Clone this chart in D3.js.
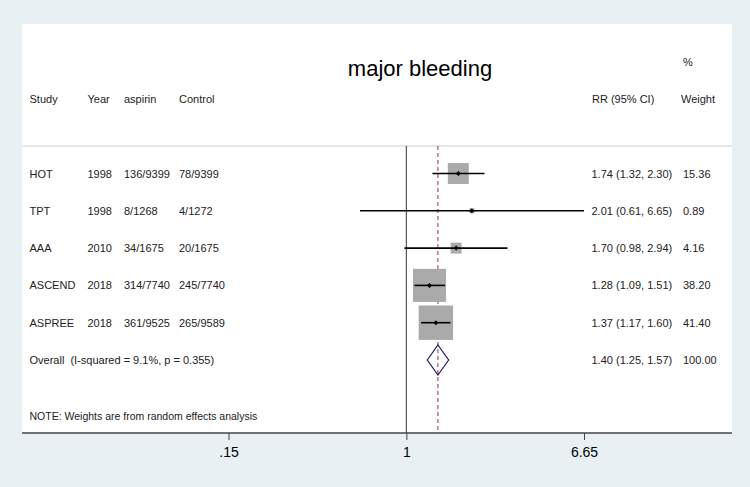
<!DOCTYPE html>
<html><head><meta charset="utf-8">
<script src="https://cdn.jsdelivr.net/npm/d3@7"></script>
<style>
html,body{margin:0;padding:0;background:#e8f0f3;}
svg{display:block;font-family:"Liberation Sans",Arial,sans-serif;}
text{white-space:pre;}
</style></head>
<body>
<svg id="chart" width="750" height="487"></svg>
<script>
const studies = ["HOT","TPT","AAA","ASCEND","ASPREE"];
const years = ["1998","1998","2010","2018","2018"];
const aspirin = ["136/9399","8/1268","34/1675","314/7740","361/9525"];
const control = ["78/9399","4/1272","20/1675","245/7740","265/9589"];
const rr = [1.74, 2.01, 1.70, 1.28, 1.37];
const lo = [1.32, 0.61, 0.98, 1.09, 1.17];
const hi = [2.30, 6.65, 2.94, 1.51, 1.60];
const weights = [15.36, 0.89, 4.16, 38.20, 41.40];
const overall = {label:"Overall  (I-squared = 9.1%, p = 0.355)", rr:1.40, lo:1.25, hi:1.57, w:100};
const tickVals = [0.15, 1, 6.65];
const tickLabels = [".15","1","6.65"];

const svg = d3.select("#chart");
const panel = {x0:22, x1:732, y0:24, y1:433};

svg.append("rect").attr("x",panel.x0).attr("y",panel.y0)
  .attr("width",panel.x1-panel.x0).attr("height",panel.y1-panel.y0).attr("fill","#fff");

const x = d3.scaleLog().domain([0.15, 6.65]).range([228.5, 584]);
const y = d3.scalePoint().domain(d3.range(6)).range([173.5, 360]);
const side = d3.scaleSqrt().domain([0,100]).range([0,53.5]);

// header
svg.append("text").attr("x",420).attr("y",76).attr("text-anchor","middle")
  .attr("font-size",22).attr("fill","#000").text("major bleeding");
const hdr = [["Study",29.5],["Year",87.5],["aspirin",124],["Control",179],["RR (95% CI)",592],["Weight",681]];
hdr.forEach(([t,px])=>svg.append("text").attr("x",px).attr("y",103).attr("font-size",11).attr("fill","#222").text(t));
svg.append("text").attr("x",683).attr("y",66).attr("font-size",11).attr("fill","#222").text("%");

// top separator
svg.append("line").attr("x1",panel.x0).attr("x2",panel.x1).attr("y1",146).attr("y2",146)
  .attr("stroke","#cfcfcf").attr("stroke-width",1);

// reference lines
svg.append("line").attr("x1",x(1)).attr("x2",x(1)).attr("y1",146).attr("y2",panel.y1)
  .attr("stroke","#555").attr("stroke-width",1.2);
svg.append("line").attr("x1",x(overall.rr)).attr("x2",x(overall.rr)).attr("y1",146).attr("y2",panel.y1)
  .attr("stroke","#a0303a").attr("stroke-width",1).attr("stroke-dasharray","4,3");

// study rows
const g = svg.append("g");
studies.forEach((s,i)=>{
  const cy = y(i);
  const sz = side(weights[i]);
  g.append("rect").attr("x",x(rr[i])-sz/2).attr("y",cy-sz/2).attr("width",sz).attr("height",sz)
    .attr("fill","#aaaaaa");
  g.append("line").attr("x1",x(lo[i])).attr("x2",x(hi[i])).attr("y1",cy).attr("y2",cy)
    .attr("stroke","#000").attr("stroke-width",1.6);
  g.append("path").attr("d",`M${x(rr[i])-2.5},${cy}L${x(rr[i])},${cy-2.5}L${x(rr[i])+2.5},${cy}L${x(rr[i])},${cy+2.5}Z`).attr("fill","#000");
  const ty = cy+4;
  [[s,29.5],[years[i],87.5],[aspirin[i],124],[control[i],179]].forEach(([t,px])=>
    g.append("text").attr("x",px).attr("y",ty).attr("font-size",11).attr("fill","#222").text(t));
  g.append("text").attr("x",591.5).attr("y",ty).attr("font-size",11).attr("fill","#222")
    .text(`${rr[i].toFixed(2)} (${lo[i].toFixed(2)}, ${hi[i].toFixed(2)})`);
  g.append("text").attr("x",683).attr("y",ty).attr("font-size",11).attr("fill","#222").text(weights[i].toFixed(2));
});

// overall
const oy = y(5);
g.append("path").attr("d",`M${x(overall.lo)},${oy}L${x(overall.rr)},${oy-15}L${x(overall.hi)},${oy}L${x(overall.rr)},${oy+15}Z`)
  .attr("fill","none").attr("stroke","#1a1a6e").attr("stroke-width",1.2);
g.append("text").attr("x",29.5).attr("y",oy+4).attr("font-size",11).attr("fill","#222").text(overall.label);
g.append("text").attr("x",591.5).attr("y",oy+4).attr("font-size",11).attr("fill","#222")
  .text(`${overall.rr.toFixed(2)} (${overall.lo.toFixed(2)}, ${overall.hi.toFixed(2)})`);
g.append("text").attr("x",683).attr("y",oy+4).attr("font-size",11).attr("fill","#222").text(overall.w.toFixed(2));

// note
svg.append("text").attr("x",29.5).attr("y",419.5).attr("font-size",10.5).attr("fill","#222")
  .text("NOTE: Weights are from random effects analysis");

// axis
const axis = d3.axisBottom(x).tickValues(tickVals).tickFormat((d,i)=>tickLabels[i]).tickSize(7).tickPadding(7);
const ag = svg.append("g").attr("transform",`translate(0,${panel.y1})`).call(axis);
ag.select(".domain").remove();
ag.append("line").attr("x1",panel.x0).attr("x2",panel.x1).attr("y1",0).attr("y2",0).attr("stroke","#444").attr("stroke-width",1.5);
ag.selectAll(".tick line").attr("stroke","#444");
ag.selectAll(".tick text").attr("font-size",14).attr("fill","#000").attr("font-family","'Liberation Sans',Arial,sans-serif");
</script>
</body></html>
